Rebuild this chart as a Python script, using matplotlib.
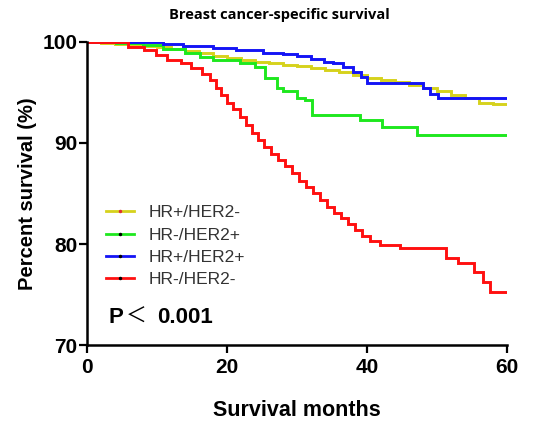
import matplotlib
matplotlib.use("Agg")
import matplotlib.pyplot as plt
from matplotlib.lines import Line2D

# Kaplan-Meier style step curves
labels = ["HR+/HER2-", "HR-/HER2+", "HR+/HER2+", "HR-/HER2-"]
colors = ["#d6d21c", "#1ee81e", "#1414f5", "#ff1010"]
dot_colors = ["#e03030", "black", "black", "black"]

t_yellow = [0, 2, 4, 6, 8, 10, 12, 14, 16, 18, 20, 22, 24, 26, 28, 30, 32,
            34, 36, 38, 40, 42, 44, 46, 48, 50, 52, 54, 56, 58, 60]
s_yellow = [100, 99.9, 99.8, 99.7, 99.6, 99.5, 99.35, 99.15, 98.9, 98.65,
            98.4, 98.2, 98.05, 97.9, 97.75, 97.6, 97.4, 97.2, 97.0, 96.7,
            96.4, 96.2, 96.0, 95.7, 95.4, 95.1, 94.8, 94.5, 94.0, 93.9, 93.9]

t_green = [0, 4.2, 8.0, 10.9, 14.0, 16.1, 18.0, 21.9, 24.0, 25.5, 27.1,
           28.0, 30.0, 31.1, 32.1, 39.0, 42.1, 47.1, 60]
s_green = [100, 99.9, 99.7, 99.3, 98.9, 98.55, 98.2, 97.9, 97.5, 96.4,
           95.4, 95.1, 94.5, 94.3, 92.8, 92.3, 91.6, 90.8, 90.8]

t_blue = [0, 10.9, 13.7, 18, 21.3, 25.2, 28, 30, 32, 33.8, 35.2, 36.6, 38,
          39.2, 40, 48, 49, 50.2, 60]
s_blue = [100, 99.8, 99.6, 99.45, 99.2, 98.95, 98.8, 98.6, 98.3, 98.05,
          97.9, 97.55, 97.05, 96.55, 95.9, 95.4, 94.9, 94.5, 94.5]

t_red = [0, 5.8, 8.2, 9.9, 11.4, 13.5, 14.9, 16.5, 17.6, 18.4, 19.2, 20.0,
         20.9, 21.8, 22.7, 23.6, 24.4, 25.3, 26.3, 27.3, 28.3, 29.3, 30.3,
         31.3, 32.3, 33.3, 34.3, 35.3, 36.3, 37.3, 38.3, 39.3, 40.4, 41.8,
         44.7, 51.3, 53.0, 55.3, 56.6, 57.6, 60]
s_red = [100, 99.55, 99.2, 98.7, 98.2, 97.9, 97.4, 96.8, 96.2, 95.4, 94.8,
         94.0, 93.4, 92.6, 91.8, 91.0, 90.3, 89.6, 88.9, 88.3, 87.7, 87.0,
         86.2, 85.6, 85.0, 84.4, 83.7, 83.1, 82.6, 82.0, 81.4, 80.8, 80.3,
         79.9, 79.6, 78.6, 78.1, 77.2, 76.2, 75.2, 75.2]

series = [(t_yellow, s_yellow), (t_green, s_green), (t_blue, s_blue), (t_red, s_red)]

fig = plt.figure(figsize=(5.59, 4.28), dpi=100)
ax = fig.add_axes([0.1556, 0.1939, 0.7514, 0.708])

for (t, s), c in zip(series, colors):
    ax.step(t, s, where="post", color=c, lw=2.1, solid_joinstyle="miter")

ax.set_xlim(0, 60)
ax.set_ylim(70, 100)
ax.set_xticks([0, 20, 40, 60])
ax.set_yticks([70, 80, 90, 100])
for side in ["top", "right"]:
    ax.spines[side].set_visible(False)
for side in ["left", "bottom"]:
    ax.spines[side].set_linewidth(1.8)
ax.tick_params(direction="out", length=6, width=1.6)
ax.tick_params(axis="y", pad=1)
ax.tick_params(axis="x", pad=3)
for lab in ax.get_xticklabels() + ax.get_yticklabels():
    lab.set_fontfamily("Liberation Sans")
    lab.set_fontweight("bold")
    lab.set_fontsize(15)

ax.set_xlabel("Survival months", fontfamily="Liberation Sans",
              fontweight="bold", fontsize=15.5, labelpad=17)
ax.set_ylabel("Percent survival (%)", fontfamily="Liberation Sans",
              fontweight="bold", fontsize=14.5, labelpad=4)
fig.text(0.5, 1 - 15 / 428, "Breast cancer-specific survival",
         ha="center", va="center", fontfamily="Open Sans",
         fontweight="bold", fontsize=10.5)

handles = [Line2D([0], [0], color=c, lw=2.0, marker=".", markersize=3,
                  markerfacecolor=d, markeredgecolor=d)
           for c, d in zip(colors, dot_colors)]
leg = ax.legend(handles, labels, loc="upper left",
                bbox_to_anchor=(0.045, 0.462), frameon=False,
                borderpad=0, borderaxespad=0, handlelength=1.6,
                handletextpad=0.85, labelspacing=0.42,
                prop={"family": "Liberation Sans", "size": 12.5})
for txt in leg.get_texts():
    txt.set_color("#333333")

ax.text(0.052, 0.092, "P", transform=ax.transAxes, fontfamily="Liberation Sans",
        fontweight="bold", fontsize=16, va="center")
ax.text(0.093, 0.092, "\uff1c", transform=ax.transAxes,
        fontfamily=["Noto Sans CJK SC", "DejaVu Sans"], fontsize=15, va="center")
ax.text(0.167, 0.092, "0.001", transform=ax.transAxes,
        fontfamily="Liberation Sans", fontweight="bold", fontsize=16, va="center")

fig.savefig("out.png", dpi=100)
